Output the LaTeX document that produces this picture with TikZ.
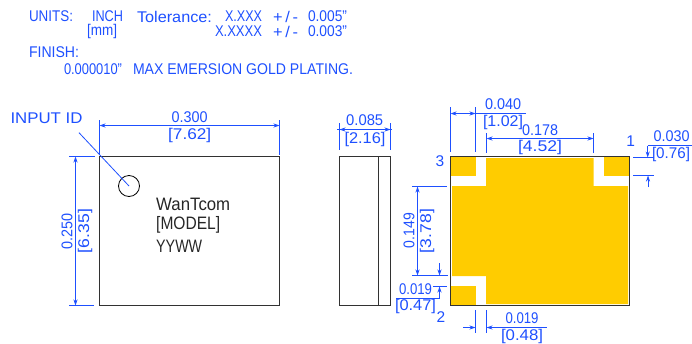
\documentclass[tikz,border=0pt]{standalone}
\usepackage{fontspec}
\setmainfont{Liberation Sans}
\usetikzlibrary{arrows.meta}
\definecolor{dimblue}{RGB}{30,80,255}
\definecolor{padgold}{RGB}{255,204,0}
\definecolor{outline}{RGB}{50,50,50}
\newcommand\wfit[2]{\resizebox{#1pt}{\height}{#2}}
\tikzset{
  lbl/.style={text=dimblue,inner sep=0pt,outer sep=0pt,font=\fontsize{15.5}{16}\selectfont},
  lbll/.style={lbl,anchor=west},
  marktext/.style={text=black!85,inner sep=0pt,anchor=west,font=\fontsize{18}{19}\selectfont},
  dimline/.style={draw=dimblue,line width=0.8pt},
  arr/.style={dimline,-{Stealth[length=6pt,width=4pt]}},
  body/.style={draw=outline,line width=1pt},
  gold/.style={fill=padgold,draw=none}
}
\begin{document}
\begin{tikzpicture}[x=1pt,y=-1pt]
\useasboundingbox (0,0) rectangle (692,343);
% header
\node[lbll] (units) at (29,16.5) {\wfit{44}{UNITS:}};
\node[lbll] (inch) at (92,16.5) {\wfit{31}{INCH}};
\node[lbll] (tol) at (137,16.5) {\wfit{75}{Tolerance:}};
\node[lbll] (x3) at (225,16.5) {\wfit{37}{X.XXX}};
\node[lbll] (pm1) at (273,16.5) {\wfit{25}{+\,/\,-}};
\node[lbll] (v1) at (308,16.5) {\wfit{39}{0.005"}};
\node[lbll] (mm) at (87,31.5) {\wfit{30}{[mm]}};
\node[lbll] (x4) at (215,31.5) {\wfit{47}{X.XXXX}};
\node[lbll] (pm2) at (273,31.5) {\wfit{25}{+\,/\,-}};
\node[lbll] (v2) at (308,31.5) {\wfit{39}{0.003"}};
\node[lbll] (finish) at (29,52.5) {\wfit{50}{FINISH:}};
\node[lbll] (fin2) at (64,69.5) {\wfit{58}{0.000010"}};
\node[lbll] (fin3) at (133,69.5) {\wfit{220}{MAX EMERSION GOLD PLATING.}};
% left view
\draw[body] (99.5,156.5) rectangle (279.5,305.5);
\draw[line width=0.8pt,draw=black] (129,186) circle (10.5);
\node[marktext] (m1) at (156,204) {\wfit{74}{WanTcom}};
\node[marktext] (m2) at (156,225) {\wfit{64}{[MODEL]}};
\node[marktext] (m3) at (156,246) {\wfit{46}{YYWW}};
\node[lbll] (iid) at (10.5,118) {\wfit{72}{INPUT ID}};
\draw[dimline] (79,132.7) -- (129,186);
% 0.300
\draw[dimline] (99.5,120) -- (99.5,155);
\draw[dimline] (279.5,120) -- (279.5,155);
\draw[arr] (189,125.5) -- (99.5,125.5);
\draw[arr] (189,125.5) -- (279.5,125.5);
\node[lbl] (d300) at (189.7,117.5) {\wfit{36}{0.300}};
\node[lbl] (d762) at (189.7,135) {\wfit{43}{[7.62]}};
% 0.250
\draw[dimline] (69,156.5) -- (95,156.5);
\draw[dimline] (69,305.5) -- (94,305.5);
\draw[arr] (75.5,230) -- (75.5,156.5);
\draw[arr] (75.5,230) -- (75.5,305.5);
\node[lbl,rotate=90] (d250) at (67,231) {\wfit{36}{0.250}};
\node[lbl,rotate=90] (d635) at (85,231) {\wfit{44}{[6.35]}};
% side view
\draw[body] (339.5,156.5) rectangle (390.5,305.5);
\draw[body] (378.5,156.5) -- (378.5,305.5);
\draw[dimline] (339.5,123) -- (339.5,150);
\draw[dimline] (390.5,123) -- (390.5,150);
\draw[arr] (365,129.5) -- (339.5,129.5);
\draw[arr] (365,129.5) -- (390.5,129.5);
\draw[dimline] (337,129.5) -- (392,129.5);
\node[lbl] (d085) at (364.7,120.5) {\wfit{37}{0.085}};
\node[lbl] (d216) at (365,139) {\wfit{41}{[2.16]}};
% right view
\fill[gold] (452,186) -- (486,186) -- (486,158) -- (593.5,158) -- (593.5,186) -- (628,186)
  -- (628,304) -- (486,304) -- (486,276) -- (452,276) -- cycle;
\fill[gold] (451,157) rectangle (476,176);
\fill[gold] (604.3,157) rectangle (628.5,176);
\fill[gold] (451,286.3) rectangle (476,304.5);
\draw[body] (450.5,156.5) rectangle (629.5,305.5);
% 0.040
\draw[dimline] (450.5,107) -- (450.5,152);
\draw[dimline] (475.5,107) -- (475.5,152);
\draw[arr] (463,113.5) -- (450.5,113.5);
\draw[arr] (463,113.5) -- (475.5,113.5);
\draw[dimline] (475.5,113.5) -- (525.7,113.5);
\node[lbl] (d040) at (503,104.5) {\wfit{36}{0.040}};
\node[lbl] (d102) at (503,122) {\wfit{40}{[1.02]}};
% 0.178
\draw[dimline] (486.5,133) -- (486.5,152.7);
\draw[dimline] (593.5,133) -- (593.5,152.7);
\draw[arr] (540,138.5) -- (486.5,138.5);
\draw[arr] (540,138.5) -- (593.5,138.5);
\node[lbl] (d178) at (540,130.5) {\wfit{36}{0.178}};
\node[lbl] (d452) at (540,147.7) {\wfit{44}{[4.52]}};
% pin labels
\node[lbl] (p3) at (440,161) {3};
\node[lbl] (p1) at (630.7,141.5) {1};
\node[lbl] (p2) at (441,317) {2};
% 0.030
\draw[dimline] (633,157.5) -- (654,157.5);
\draw[dimline] (633,175.5) -- (654,175.5);
\draw[dimline] (692,145.5) -- (647.7,145.5);
\draw[arr] (647.7,145.5) -- (647.7,157.5);
\draw[arr] (648,187) -- (648,175.5);
\node[lbl] (d030) at (671.5,136.5) {\wfit{36}{0.030}};
\node[lbl] (d076) at (671,154.5) {\wfit{38}{[0.76]}};
% 0.149
\draw[dimline] (412,186.5) -- (446.7,186.5);
\draw[dimline] (412,275.5) -- (448,275.5);
\draw[arr] (417.5,230) -- (417.5,186.5);
\draw[arr] (417.5,230) -- (417.5,275.5);
\node[lbl,rotate=90] (d149) at (409,230.5) {\wfit{35}{0.149}};
\node[lbl,rotate=90] (d378) at (427,231) {\wfit{44}{[3.78]}};
% 0.019 vertical
\draw[dimline] (433,286.5) -- (446.7,286.5);
\draw[arr] (439.5,263) -- (439.5,275.5);
\draw[arr] (439.5,298) -- (439.5,286.5);
\draw[dimline] (396,298.5) -- (439.7,298.5);
\node[lbl] (d019a) at (415.5,289) {\wfit{33}{0.019}};
\node[lbl] (d047) at (415.5,306.7) {\wfit{41}{[0.47]}};
% 0.019 horizontal
\draw[dimline] (475.5,310) -- (475.5,333);
\draw[dimline] (486.5,310) -- (486.5,333);
\draw[arr] (463,327.5) -- (475.5,327.5);
\draw[arr] (546.7,327.5) -- (486.5,327.5);
\node[lbl] (d019b) at (522,318) {\wfit{33}{0.019}};
\node[lbl] (d048) at (522,336) {\wfit{42}{[0.48]}};
\end{tikzpicture}
\end{document}
